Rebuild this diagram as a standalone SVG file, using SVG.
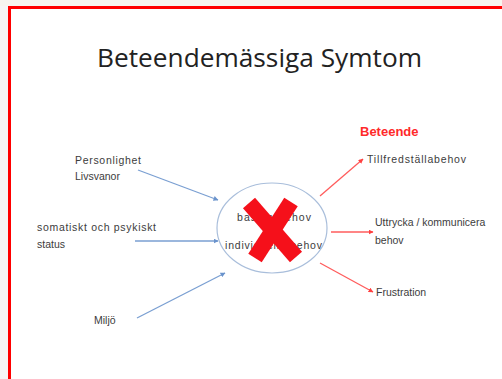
<svg xmlns="http://www.w3.org/2000/svg" width="502" height="379" viewBox="0 0 502 379">
  <style>
    .lbl { font-family: "Liberation Sans", Arial, sans-serif; font-size: 10.5px; fill: #3c3c3c; }
    .title { font-family: "Open Sans", "Liberation Sans", sans-serif; font-size: 25px; fill: #222; }
    .head { font-family: "Liberation Sans", Arial, sans-serif; font-size: 13px; font-weight: bold; fill: #ff2a2a; }
    .in { stroke: #7a9fd2; stroke-width: 1.3; fill: none; marker-end: url(#arrBlue); }
    .out { stroke: #ff5c5c; stroke-width: 1.3; fill: none; marker-end: url(#arrRed); }
  </style>
  <defs>
    <marker id="arrBlue" viewBox="0 0 10 10" refX="9" refY="5" markerWidth="5" markerHeight="5" orient="auto" markerUnits="userSpaceOnUse">
      <path d="M0,0 L10,5 L0,10 z" fill="#6a93cc"/>
    </marker>
    <marker id="arrRed" viewBox="0 0 10 10" refX="9" refY="5" markerWidth="5" markerHeight="5" orient="auto" markerUnits="userSpaceOnUse">
      <path d="M0,0 L10,5 L0,10 z" fill="#ff4040"/>
    </marker>
  </defs>

  <!-- page background and frame -->
  <rect x="0" y="0" width="502" height="379" fill="#ffffff"/>
  <rect x="0" y="0" width="502" height="6" fill="#f7f5ef"/>
  <rect x="0" y="6" width="8" height="373" fill="#f6f6f6"/>
  <path d="M9.5,379 V7.5 H502" fill="none" stroke="#ff0000" stroke-width="3"/>

  <text class="title" x="97" y="67" textLength="325" lengthAdjust="spacingAndGlyphs">Beteendemässiga  Symtom</text>

  <!-- connectors -->
  <g id="connectors">
    <line class="in" x1="138" y1="170" x2="218" y2="200"/>
    <line class="in" x1="135" y1="241" x2="218" y2="241"/>
    <line class="in" x1="137" y1="318" x2="225" y2="273"/>
    <line class="out" x1="320" y1="196" x2="363" y2="159"/>
    <line class="out" x1="331" y1="232" x2="373" y2="232"/>
    <line class="out" x1="320" y1="263" x2="373" y2="292"/>
  </g>

  <!-- inputs -->
  <g id="personlighet">
    <text class="lbl" x="75" y="164" textLength="66" lengthAdjust="spacing">Personlighet</text>
    <text class="lbl" x="75" y="180">Livsvanor</text>
  </g>
  <g id="somatiskt">
    <text class="lbl" x="37" y="231" textLength="119" lengthAdjust="spacing">somatiskt och psykiskt</text>
    <text class="lbl" x="37" y="248">status</text>
  </g>
  <g id="miljo">
    <text class="lbl" x="94" y="324">Miljö</text>
  </g>

  <!-- centre: needs, crossed out -->
  <g id="behov">
    <ellipse cx="272" cy="228" rx="55" ry="45" fill="#ffffff" stroke="#a9bedb" stroke-width="1.2"/>
    <text class="lbl" x="237" y="221" textLength="74" lengthAdjust="spacing">basala behov</text>
    <text class="lbl" x="225" y="249" textLength="97" lengthAdjust="spacing">individuella behov</text>
    <g stroke="#f5101a" stroke-width="16" stroke-linecap="butt">
      <line x1="249" y1="203" x2="296" y2="257"/>
      <line x1="291" y1="202" x2="255" y2="258"/>
    </g>
  </g>

  <!-- outcomes -->
  <g id="beteende">
    <text class="head" x="360" y="136">Beteende</text>
  </g>
  <g id="tillfredstalla">
    <text class="lbl" x="367" y="163" textLength="99" lengthAdjust="spacing">Tillfredställabehov</text>
  </g>
  <g id="uttrycka">
    <text class="lbl" x="375" y="226">Uttrycka / kommunicera</text>
    <text class="lbl" x="375" y="244">behov</text>
  </g>
  <g id="frustration">
    <text class="lbl" x="376" y="296">Frustration</text>
  </g>
</svg>
